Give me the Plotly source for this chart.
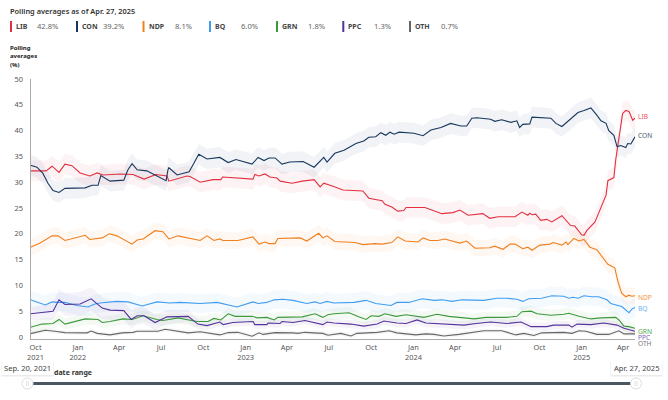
import pandas as pd
import plotly.graph_objects as go

START = "2021-09-20"

PARTIES = ["LIB", "CON", "NDP", "BQ", "GRN", "PPC", "OTH"]
LATEST = ["42.8%", "39.2%", "8.1%", "6.0%", "1.8%", "1.3%", "0.7%"]
COLORS = ["#e2303f", "#17375e", "#f07f1e", "#3f9df2", "#3c9a3c", "#55329b", "#666666"]
LABEL_COLORS = ["#ee5562", "#44586f", "#f5953f", "#66b0f5", "#4ca84c", "#8360c0", "#777777"]

LIB_DAYS = [0,34,47,62,75,90,108,129,145,158,195,223,247,273,297,301,340,347,369,397,414,418,484,488,497,510,521,536,543,569,591,617,630,638,658,680,723,736,765,771,786,799,812,817,858,895,919,934,952,984,999,1017,1043,1054,1069,1082,1086,1091,1099,1110,1123,1134,1156,1175,1184,1199,1204,1210,1228,1243,1252,1256,1269,1273,1278,1282,1288,1295,1302,1310,1315]
LIB_VALUES = [32.2,32.2,33.1,31.9,33.5,33.2,31.8,31.2,31.8,31.4,31.6,31.5,30.6,31.5,31.2,30.2,31.2,31.1,30,30.5,30.5,31,30.6,31.5,31.2,31.6,31,30.8,30.2,29.8,30.2,30.5,29.1,29.8,29.2,28.5,28.3,26.9,26.4,25.7,25.2,24.4,24.5,25.1,25.1,23.9,24.1,24.6,23.6,23.9,23,23.3,23.3,23.3,24.2,23.6,24,23.7,23.8,22.6,22.8,22.3,23.5,21.6,21.5,19.8,19.7,20.6,22.3,25.4,27.5,30.3,30.9,34.3,37.6,39.5,43.3,43.9,43.7,42,42.4]

CON_DAYS = [0,14,27,38,49,62,75,119,134,147,153,173,203,212,221,232,253,271,295,299,301,319,345,353,366,384,412,430,447,482,495,508,519,532,547,564,593,617,638,645,662,682,708,725,736,751,762,773,782,791,802,834,854,871,893,914,936,949,960,971,1001,1010,1025,1045,1058,1064,1071,1086,1091,1132,1143,1156,1178,1191,1204,1219,1232,1241,1252,1258,1269,1276,1284,1295,1299,1306,1315]
CON_VALUES = [33.3,32.9,31.7,29.8,28.4,28,28.8,28.9,29.4,29.4,31.3,30.2,30.4,32.4,33.6,32.4,32.2,31.4,30.3,32.4,32.8,31.4,32,33.3,35.4,34.5,34.8,33.8,34.4,33.5,34.8,34.2,34.7,34.7,33.5,33.9,34,32.9,34.8,33.9,35.6,36.2,37.5,38,38.7,38.8,39.6,39.1,39.7,39.3,39.7,39.5,39,40.1,40.6,41.4,40.9,40.9,42.4,42.5,42.2,41.8,42.1,41.6,41.9,40.6,41.2,41.3,42.6,42.4,41.4,40.8,42.4,43.5,43.9,44.4,43,41.9,41.4,40,39.1,36.9,37.1,36.7,37.5,37.4,38.8]

NDP_DAYS = [0,21,47,60,75,119,129,156,171,188,221,232,245,271,288,301,321,369,384,399,412,419,451,484,497,510,519,532,538,587,601,627,636,645,662,706,723,749,765,786,799,815,843,854,869,886,901,934,949,967,999,1010,1028,1043,1054,1071,1082,1091,1108,1130,1137,1156,1165,1169,1182,1193,1204,1217,1232,1250,1256,1271,1278,1286,1295,1302,1308,1315]
NDP_VALUES = [17.4,18.2,19.6,19.6,18.7,19.7,18.9,19.2,20,19.6,18,18.8,19,20.6,20.4,19,19.6,18.7,19.6,18.7,19,18.7,18.7,19.4,18,18.4,18.1,18.1,19.1,19.2,18.6,20.1,19.2,19.6,18.5,18.3,17.9,18.1,18,18.3,19.4,18.6,18.4,19.2,18.7,18.7,19,18.2,18.6,17.2,17.3,17.6,17,18,18,17.1,17.4,16.8,17.8,18,18.3,17.8,18.4,17.9,19.1,18.6,18.9,17.4,16.9,14.8,14.1,13.4,10.7,8.5,7.8,8.1,7.9,8.0]

BQ_DAYS = [0,32,47,58,75,101,125,140,151,188,212,243,275,303,325,369,406,417,449,484,495,514,530,549,571,601,619,630,645,660,704,730,751,784,797,823,852,878,895,917,939,986,1015,1036,1058,1071,1084,1112,1134,1160,1171,1180,1191,1204,1221,1236,1254,1262,1286,1302,1308,1315]
BQ_VALUES = [7.2,6.2,6.8,6.7,6.7,6.1,5.8,6.4,6.6,6.9,6.8,6,6.8,6.6,6.7,6.5,6.7,6.5,5.8,6.8,6.5,6.7,7.2,7.3,7.1,6.5,6.8,6.5,6.9,6.6,6.7,7.1,6.5,6.1,6.7,6.7,7.4,7.1,7.2,6.9,7.2,7.1,7.5,7.5,7.3,6.9,7.4,7.5,8,7.9,7.5,7.7,7.5,8,7.8,7.8,7.2,6.5,5.9,4.7,5.4,5.7]

GRN_DAYS = [0,25,49,62,75,90,119,147,156,173,201,221,245,275,288,321,362,386,399,414,430,445,482,493,514,530,538,591,619,636,647,660,693,714,730,741,758,771,795,817,856,884,910,965,991,1036,1058,1069,1089,1102,1132,1160,1171,1193,1219,1241,1273,1280,1291,1302,1315]
GRN_VALUES = [1.9,2.5,2.6,3.4,2.5,2.8,3.5,3.4,2.8,3,3.5,3.4,4.1,3.4,3.2,3.7,3,3,3.6,3.3,4.5,4,4,3.7,3.8,3.3,3.8,3.9,4.5,3.8,4.3,4.5,4.7,3.9,3.4,4.1,4,4.5,4,4.3,3.8,4.4,4,3.5,3.8,3.8,4,4.9,5,4.5,4.2,4.4,4.6,4,3.5,3.7,3.8,3.3,2.1,2,1.7]

PPC_DAYS = [0,49,62,75,108,132,156,173,203,219,232,247,271,297,343,364,384,412,419,440,484,488,514,517,543,547,571,597,636,645,660,697,725,754,769,797,817,841,860,899,943,969,1001,1036,1067,1089,1123,1138,1171,1178,1189,1219,1247,1276,1291,1315]
PPC_VALUES = [4.5,5,7.2,6.3,6.4,7.4,5.6,5.2,5.1,3.4,4.1,4.1,2.8,3.9,4,2.5,2.2,2.9,2.4,2.8,3,2.4,2.4,2.7,2.6,3,2.8,3.2,2.4,2.9,2.7,2.5,2.1,2.5,3.1,2.7,2.6,3.3,2.7,2.5,2.3,2.6,2.9,2.6,2.9,2,2,2.3,2.3,1.9,2.5,2.4,2.7,2.3,1.7,1.1]
PPC_MARGIN = [1.2,1.6,2.0,2.2,2.3,2.3,2.1,1.9,1.8,1.7,1.7,1.6,1.5,1.4,1.2,1.0,0.9,0.8,0.8,0.8,0.8,0.8,0.8,0.8,0.8,0.8,0.8,0.8,0.8,0.8,0.8,0.8,0.8,0.8,0.8,0.8,0.8,0.8,0.8,0.8,0.8,0.8,0.8,0.8,0.8,0.8,0.8,0.8,0.8,0.8,0.8,0.8,0.8,0.7,0.6,0.5]

OTH_DAYS = [0,32,53,75,123,132,145,173,199,223,232,277,293,325,343,369,412,430,451,482,497,506,532,571,582,597,636,647,660,675,697,710,754,780,797,838,860,878,899,932,986,1025,1056,1073,1095,1112,1160,1178,1193,1208,1232,1258,1280,1291,1315]
OTH_VALUES = [0.65,1.3,1.1,0.85,0.8,1.15,0.7,0.4,0.8,0.9,1.1,1.1,1.5,1.1,0.8,1,0.4,0.85,0.9,0.15,0.8,0.5,0.85,0.8,0.7,0.9,0.7,0.35,0.5,0.7,0.2,0.7,0.9,1.2,0.8,0.4,0.6,0.5,0.2,0.5,1.2,1.2,0.4,0.7,0.3,0.8,0.9,0.7,1.2,1.1,0.5,0.5,1.2,0.6,0.6]

BAND_MARGIN = [2.0, 2.0, 1.6, 1.8, 1.1, None, 0.4]

TICK_DATES = ["2021-10-01","2022-01-01","2022-04-01","2022-07-01","2022-10-01","2023-01-01","2023-04-01","2023-07-01","2023-10-01","2024-01-01","2024-04-01","2024-07-01","2024-10-01","2025-01-01","2025-04-01"]
TICK_TEXT = ["Oct<br>2021","Jan<br>2022","Apr","Jul","Oct","Jan<br>2023","Apr","Jul","Oct","Jan<br>2024","Apr","Jul","Oct","Jan<br>2025","Apr"]

W, H = 668, 400
FONT = "Noto Sans"
fx = lambda p: p / W
fy = lambda p: 1 - p / H


def to_dates(days):
    return pd.Timestamp(START) + pd.to_timedelta(days, unit="D")


def rgba(hex_color, alpha):
    h = hex_color.lstrip("#")
    return f"rgba({int(h[0:2],16)},{int(h[2:4],16)},{int(h[4:6],16)},{alpha})"


SERIES = [
    (LIB_DAYS, LIB_VALUES), (CON_DAYS, CON_VALUES), (NDP_DAYS, NDP_VALUES), (BQ_DAYS, BQ_VALUES),
    (GRN_DAYS, GRN_VALUES), (PPC_DAYS, PPC_VALUES), (OTH_DAYS, OTH_VALUES),
]

fig = go.Figure()
for i, (days, vals) in enumerate(SERIES):
    margin = PPC_MARGIN if PARTIES[i] == "PPC" else [BAND_MARGIN[i]] * len(vals)
    hi = [v + m for v, m in zip(vals, margin)]
    lo = [v - m for v, m in zip(vals, margin)]
    d = list(to_dates(days))
    fig.add_trace(go.Scatter(
        x=d + d[::-1], y=hi + lo[::-1], fill="toself", mode="lines",
        line=dict(width=0), fillcolor=rgba(COLORS[i], 0.06), hoverinfo="skip", showlegend=False,
    ))
for i, (days, vals) in enumerate(SERIES):
    fig.add_trace(go.Scatter(
        x=to_dates(days), y=vals, mode="lines", name=PARTIES[i],
        line=dict(color=COLORS[i], width=1.1), showlegend=False,
    ))

annotations = []
shapes = []


def text(x, y, s, size=7.6, color="#555555", weight=400, anchor="left"):
    annotations.append(dict(
        xref="paper", yref="paper", x=fx(x - 1.3 if anchor == "left" else x), y=fy(y), text=s, showarrow=False,
        xanchor=anchor, yanchor="middle", borderpad=0,
        font=dict(family=FONT, size=size, color=color, weight=weight),
    ))


text(10, 10.7, "Polling averages as of Apr. 27, 2025", size=7.4, color="#333333", weight=600)
for line_y, s in zip([48.5, 56.5, 64.5], ["Polling", "averages", "(%)"]):
    text(10, line_y, s, size=6, color="#222222", weight=700)

BAR_X = [10, 76, 142.5, 209, 276, 342.3, 409]
NAME_X = [16, 82.5, 149, 215.5, 282, 348.7, 415.5]
VALUE_X = [37, 103.5, 175, 241, 308, 374.6, 441]
for i, p in enumerate(PARTIES):
    shapes.append(dict(type="rect", xref="paper", yref="paper", x0=fx(BAR_X[i]), x1=fx(BAR_X[i] + 2),
                       y0=fy(32), y1=fy(21), fillcolor=COLORS[i], line_width=0))
    text(NAME_X[i], 26.2, p, size=7, color="#444444", weight=700)
    text(VALUE_X[i], 26.2, LATEST[i], size=7.6, color="#666666")

END_LABEL_Y = [116.5, 135.3, 297.7, 308.7, 331, 337.2, 343.4]
for i, p in enumerate(PARTIES):
    text(638, END_LABEL_Y[i], p, size=6.6, color=LABEL_COLORS[i])

text(54, 372.2, "date range", size=7, color="#333333", weight=700)

# slider track and handles
shapes.append(dict(type="rect", xref="paper", yref="paper", x0=fx(33), x1=fx(632), y0=fy(385), y1=fy(382),
                   fillcolor="#4b5661", line_width=0))
for cx in [27.5, 636]:
    shapes.append(dict(type="circle", xref="paper", yref="paper", x0=fx(cx - 5.5), x1=fx(cx + 5.5),
                       y0=fy(389), y1=fy(378), fillcolor="#ffffff", line=dict(color="#dddddd", width=1)))
    for dx in [-1, 1]:
        shapes.append(dict(type="line", xref="paper", yref="paper", x0=fx(cx + dx), x1=fx(cx + dx),
                           y0=fy(386), y1=fy(381), line=dict(color="#d5d5d5", width=0.7)))

# date tooltips
for x0, x1, label in [(2, 53, "Sep. 20, 2021"), (611, 662, "Apr. 27, 2025")]:
    shapes.append(dict(type="rect", xref="paper", yref="paper", x0=fx(x0 - 0.5), x1=fx(x1 + 0.5), y0=fy(376.5), y1=fy(361),
                       fillcolor="rgba(0,0,0,0.08)", line_width=0))
    shapes.append(dict(type="rect", xref="paper", yref="paper", x0=fx(x0), x1=fx(x1), y0=fy(375), y1=fy(361),
                       fillcolor="#ffffff", line_width=0))
    text((x0 + x1) / 2, 367.7, label, size=7.6, color="#444444", anchor="center")

fig.update_layout(
    width=W, height=H, autosize=False,
    margin=dict(l=0, r=0, t=0, b=0, pad=0, autoexpand=False),
    paper_bgcolor="white", plot_bgcolor="white",
    font=dict(family=FONT, size=7.4, color="#555555"),
    annotations=annotations, shapes=shapes, showlegend=False,
    xaxis=dict(
        domain=[fx(30.5), fx(635)], range=[START, "2025-04-27"], type="date", automargin=False,
        tickmode="array", tickvals=TICK_DATES, ticktext=TICK_TEXT,
        showgrid=False, zeroline=False, showline=True, linecolor="#aaaaaa", linewidth=1,
        ticks="outside", ticklen=1, tickcolor="rgba(0,0,0,0)", tickangle=0,
    ),
    yaxis=dict(
        domain=[fy(339.3), fy(79)], range=[-0.45, 50], automargin=False,
        tickmode="array", tickvals=[0, 5, 10, 15, 20, 25, 30, 35, 40, 45, 50],
        showgrid=False, zeroline=False, showline=True, linecolor="#aaaaaa", linewidth=1,
        ticks="outside", ticklen=5, tickcolor="rgba(0,0,0,0)",
    ),
)

fig.write_html("out.html", config={"displayModeBar": False},
               post_script="document.body.style.margin='0';")
